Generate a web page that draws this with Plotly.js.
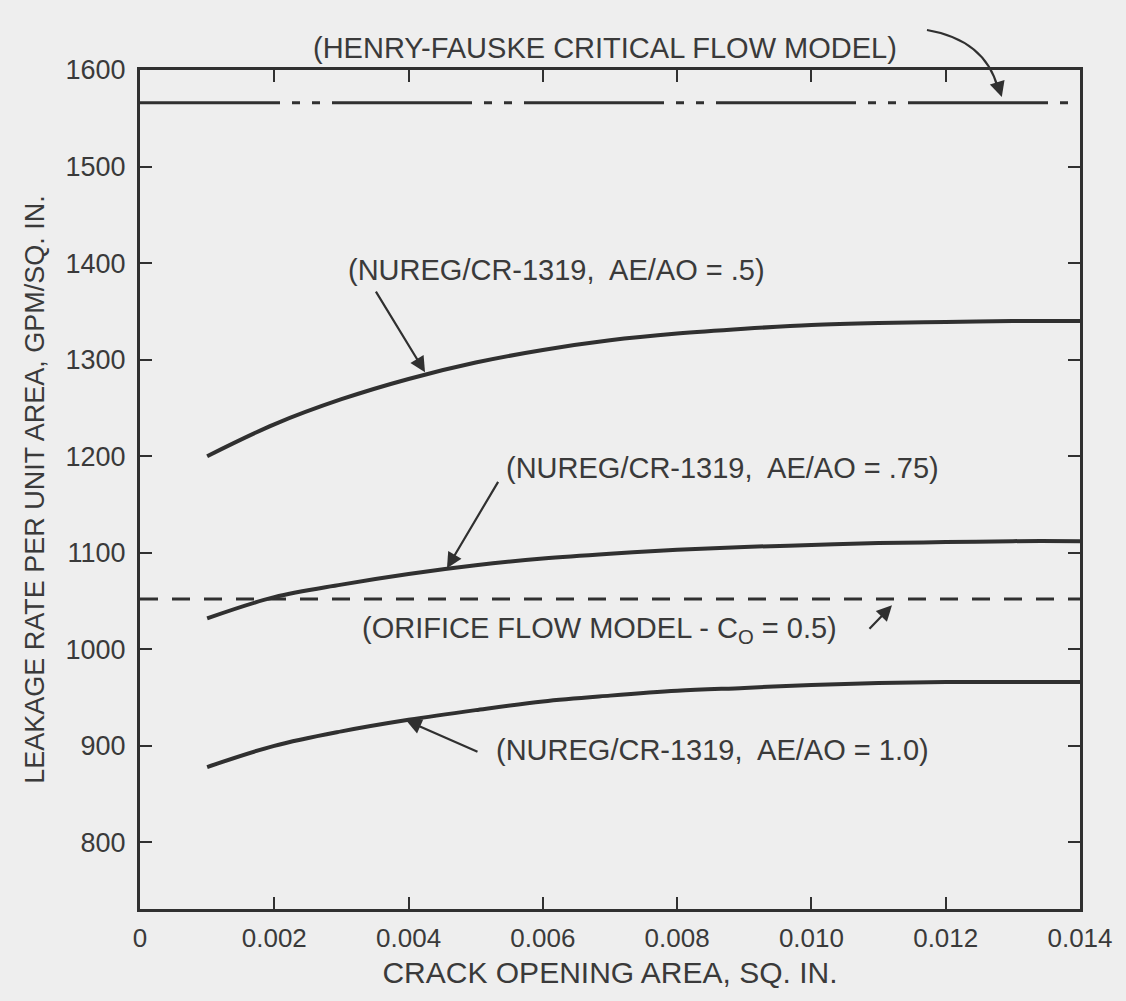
<!DOCTYPE html>
<html><head><meta charset="utf-8">
<script src="https://cdn.plot.ly/plotly-3.0.1.min.js"></script>
<style>body{margin:0;background:#eeeeee}</style>
</head><body><div id="chart" style="width:1126px;height:1001px"></div>
<script>
// Crack opening area, sq. in.
const crackArea = [0.001,0.002,0.003,0.004,0.005,0.006,0.007,0.008,0.009,0.010,0.011,0.012,0.013,0.014];
// NUREG/CR-1319 curves, GPM/sq. in.
const rateAeAo050 = [1200,1233,1259,1280,1297,1310,1320,1327,1332,1336,1338,1339,1340,1340];
const rateAeAo075 = [1032,1054,1067,1078,1087,1094,1099,1103,1106,1108,1110,1111,1112,1112];
const rateAeAo100 = [878,900,915,927,937,946,952,957,960,963,965,966,966,966];
// Model lines
const modelX = [0, 0.014];
const henryFauskeRate = [1566, 1566];
const orificeRate = [1052, 1052];
// Ticks
const xTickVals = [0,0.002,0.004,0.006,0.008,0.010,0.012,0.014];
const xTickText = ["0","0.002","0.004","0.006","0.008","0.010","0.012","0.014"];
const yTickVals = [800,900,1000,1100,1200,1300,1400,1500,1600];
const yTickText = ["800","900","1000","1100","1200","1300","1400","1500","1600"];

const ink = '#303030';
const txt = '#3a3a3a';
const annFont = {family:'Liberation Sans, Arial, sans-serif', size:29, color:txt};

const traces = [
  {x: modelX, y: henryFauskeRate, mode:'lines', line:{color:ink, width:3, dash:'140px,12px,8px,12px,8px,12px'}},
  {x: modelX, y: orificeRate, mode:'lines', line:{color:ink, width:3, dash:'18px,14px'}},
  {x: crackArea, y: rateAeAo050, mode:'lines', line:{color:ink, width:4, shape:'spline'}},
  {x: crackArea, y: rateAeAo075, mode:'lines', line:{color:ink, width:4, shape:'spline'}},
  {x: crackArea, y: rateAeAo100, mode:'lines', line:{color:ink, width:4, shape:'spline'}}
];

function arrow(x, y, ax, ay){
  return {x:x, y:y, ax:ax, ay:ay, xref:'x', yref:'y', axref:'x', ayref:'y', text:'',
    showarrow:true, arrowhead:2, arrowsize:1.4, arrowwidth:2.2, arrowcolor:ink};
}

const layout = {
  width:1126, height:1001,
  paper_bgcolor:'#eeeeee', plot_bgcolor:'#eeeeee',
  showlegend:false,
  margin:{l:140, r:46, t:70, b:92},
  font:{family:'Liberation Sans, Arial, sans-serif', color:txt},
  xaxis:{
    range:[0,0.014], tickvals:xTickVals, ticktext:xTickText,
    ticks:'inside', ticklen:12, tickwidth:2, tickcolor:ink,
    showline:true, linewidth:3, linecolor:ink, mirror:'ticks',
    showgrid:false, zeroline:false,
    tickfont:{family:'Liberation Sans, Arial, sans-serif', size:26, color:txt},
    ticklabelstandoff:4,
    title:{text:'CRACK OPENING AREA, SQ. IN.', font:{size:30, color:txt}, standoff:10}
  },
  yaxis:{
    range:[731,1600], tickvals:yTickVals, ticktext:yTickText,
    ticks:'inside', ticklen:12, tickwidth:2, tickcolor:ink,
    showline:true, linewidth:3, linecolor:ink, mirror:'ticks',
    showgrid:false, zeroline:false,
    tickfont:{family:'Liberation Sans, Arial, sans-serif', size:27, color:txt},
    ticklabelstandoff:6,
    title:{text:'LEAKAGE RATE PER UNIT AREA, GPM/SQ. IN.', font:{size:27, color:txt}, standoff:14}
  },
  annotations:[
    {x:0.4947, y:1.0477, xref:'paper', yref:'paper', text:'(HENRY-FAUSKE CRITICAL FLOW MODEL)', showarrow:false, font:annFont},
    {x:0.00621, y:1392.7, xref:'x', yref:'y', text:'(NUREG/CR-1319,  AE/AO = .5)', showarrow:false, font:annFont},
    {x:0.00868, y:1187.6, xref:'x', yref:'y', text:'(NUREG/CR-1319,  AE/AO = .75)', showarrow:false, font:annFont},
    {x:0.00685, y:1019.7, xref:'x', yref:'y', text:'(ORIFICE FLOW MODEL - C<sub>O</sub> = 0.5)', showarrow:false, font:annFont},
    {x:0.00852, y:895.3, xref:'x', yref:'y', text:'(NUREG/CR-1319,  AE/AO = 1.0)', showarrow:false, font:annFont},
    arrow(0.004245, 1287, 0.0035, 1372),
    arrow(0.004572, 1084, 0.005347, 1175),
    arrow(0.003962, 926.4, 0.005049, 893.3),
    arrow(0.0112, 1045.6, 0.010843, 1019.7),
    {x:0.9168, y:0.9678, xref:'paper', yref:'paper', ax:-5, ay:-16, text:'', showarrow:true,
     arrowhead:2, arrowsize:1.4, arrowwidth:2.2, arrowcolor:ink}
  ],
  shapes:[
    {type:'path', xref:'paper', yref:'paper', path:'M 0.8372,1.0477 Q 0.8989,1.0358 0.9125,0.9790',
     line:{color:ink, width:2.2}}
  ]
};

Plotly.newPlot('chart', traces, layout, {displayModeBar:false, staticPlot:true});
</script>
</body></html>
